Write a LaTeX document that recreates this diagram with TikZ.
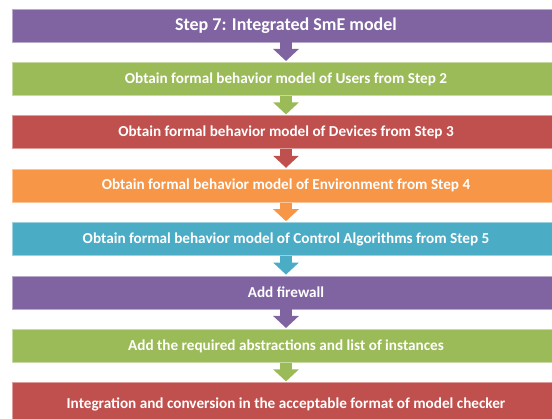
\documentclass[tikz,border=0pt]{standalone}
\usepackage{fontspec}
\setmainfont{Carlito}
\usetikzlibrary{positioning,arrows.meta}
\definecolor{smepurple}{HTML}{8064A2}
\definecolor{smegreen}{HTML}{9BBB59}
\definecolor{smered}{HTML}{C0504D}
\definecolor{smeorange}{HTML}{F79646}
\definecolor{smeteal}{HTML}{4BACC6}
\tikzset{
	stepbox/.style={rectangle, fill=#1, draw=#1!55!white, line width=.8pt,
		minimum width=548pt, minimum height=33pt, inner sep=0pt,
		text=white, font=\fontsize{15.2}{17}\selectfont\bfseries},
	flowarrow/.style={draw=#1, line width=12pt, shorten >=1pt,
		-{Triangle[width=25pt,length=12pt]}}
}
\begin{document}
\begin{tikzpicture}[node distance=19.6pt]
	\useasboundingbox (0,0) rectangle (552pt,-419pt);
	\node[stepbox=smepurple, font=\fontsize{18}{20}\selectfont\bfseries] (s7) at (286pt,-25.5pt) {Step 7: Integrated SmE model};
	\node[stepbox=smegreen, below=of s7] (users) {Obtain formal behavior model of Users from Step 2};
	\node[stepbox=smered, below=of users] (devices) {Obtain formal behavior model of Devices from Step 3};
	\node[stepbox=smeorange, below=of devices] (env) {Obtain formal behavior model of Environment from Step 4};
	\node[stepbox=smeteal, below=of env] (ctrl) {Obtain formal behavior model of Control Algorithms from Step 5};
	\node[stepbox=smepurple, below=of ctrl] (fw) {Add firewall};
	\node[stepbox=smegreen, below=of fw] (abs) {Add the required abstractions and list of instances};
	\node[stepbox=smered, below=of abs, minimum height=44pt] (conv) {Integration and conversion in the acceptable format of model checker};
	\draw[flowarrow=smepurple] (s7) -- (users);
	\draw[flowarrow=smegreen] (users) -- (devices);
	\draw[flowarrow=smered] (devices) -- (env);
	\draw[flowarrow=smeorange] (env) -- (ctrl);
	\draw[flowarrow=smeteal] (ctrl) -- (fw);
	\draw[flowarrow=smepurple] (fw) -- (abs);
	\draw[flowarrow=smegreen] (abs) -- (conv);
\end{tikzpicture}
\end{document}
